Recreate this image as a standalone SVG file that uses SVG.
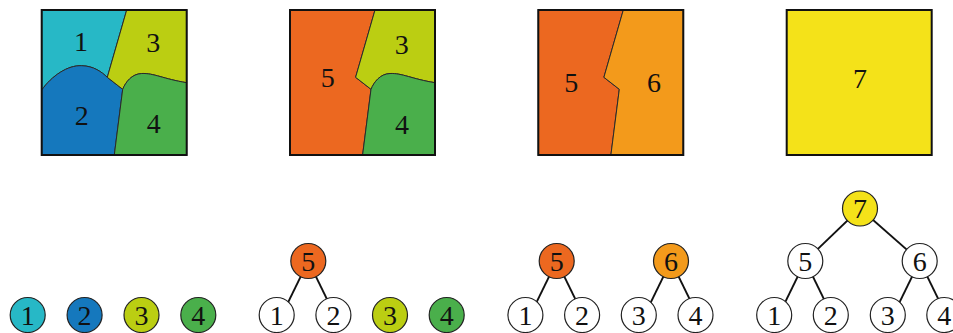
<svg xmlns="http://www.w3.org/2000/svg" width="953" height="333" viewBox="0 0 953 333">
  <style>
    text { font-family: "Liberation Serif", "Times New Roman", serif; font-size: 28px; fill: #111; text-anchor: middle; }
    .reg { stroke: #2a2a2a; stroke-width: 1; stroke-linejoin: round; }
    .frame { fill: none; stroke: #111; stroke-width: 2; }
    .node { stroke: #222; stroke-width: 1.2; }
    .edge { stroke: #111; stroke-width: 1.8; fill: none; }
    .c1 { fill: #27b8c6; } .c2 { fill: #1578bd; } .c3 { fill: #bbce12; } .c4 { fill: #4aaf4b; }
    .c5 { fill: #ec6820; } .c6 { fill: #f39a1b; } .c7 { fill: #f4e219; } .cw { fill: #fff; }
  </style>
  <defs>
    <!-- region outlines in a 145x145 square -->
    <path id="r1" d="M0,0 L85,0 L65.6,67.3 C60,62 52,56 40,55.7 C26,55 10,66 0,80 Z"/>
    <path id="r2" d="M0,80 C10,66 26,55 40,55.7 C52,56 60,62 65.6,67.3 L81,79.3 L72.6,145 L0,145 Z"/>
    <path id="r3" d="M85,0 L145,0 L145,72.7 C122,69 112,63 100,63.5 C90,64 84,72 81,79.3 L65.6,67.3 Z"/>
    <path id="r4" d="M81,79.3 C84,72 90,64 100,63.5 C112,63 122,69 145,72.7 L145,145 L72.6,145 Z"/>
    <path id="r5" d="M0,0 L85,0 L65.6,67.3 L81,79.3 L72.6,145 L0,145 Z"/>
    <path id="r6" d="M85,0 L145,0 L145,145 L72.6,145 L81,79.3 L65.6,67.3 Z"/>
  </defs>

  <!-- Partition stages -->
  <g id="square-1" transform="translate(41.7,10)">
    <use href="#r1" class="reg c1"/>
    <use href="#r2" class="reg c2"/>
    <use href="#r3" class="reg c3"/>
    <use href="#r4" class="reg c4"/>
    <rect class="frame" x="0" y="0" width="145" height="145"/>
    <text x="39.3" y="40.5">1</text>
    <text x="111.6" y="42">3</text>
    <text x="40" y="114.5">2</text>
    <text x="112" y="122.5">4</text>
  </g>

  <g id="square-2" transform="translate(290,10)">
    <use href="#r5" class="reg c5"/>
    <use href="#r3" class="reg c3"/>
    <use href="#r4" class="reg c4"/>
    <rect class="frame" x="0" y="0" width="145" height="145"/>
    <text x="37.7" y="77">5</text>
    <text x="111.7" y="43.5">3</text>
    <text x="112" y="123.5">4</text>
  </g>

  <g id="square-3" transform="translate(538.3,10)">
    <use href="#r5" class="reg c5"/>
    <use href="#r6" class="reg c6"/>
    <rect class="frame" x="0" y="0" width="145" height="145"/>
    <text x="33" y="82">5</text>
    <text x="115.7" y="82">6</text>
  </g>

  <g id="square-4" transform="translate(786.7,10)">
    <rect class="frame" style="fill:#f4e219" x="0" y="0" width="145" height="145"/>
    <text x="73.3" y="77.5">7</text>
  </g>

  <!-- Tree connectors -->
  <g id="connectors">
    <line class="edge" x1="308.3" y1="261" x2="286.3" y2="306"/>
    <line class="edge" x1="308.3" y1="261" x2="330.3" y2="306"/>
    <line class="edge" x1="556.7" y1="261" x2="534.7" y2="306"/>
    <line class="edge" x1="556.7" y1="261" x2="578.7" y2="306"/>
    <line class="edge" x1="671" y1="261" x2="649" y2="306"/>
    <line class="edge" x1="671" y1="261" x2="693" y2="306"/>
    <line class="edge" x1="860" y1="208.5" x2="805.3" y2="261"/>
    <line class="edge" x1="860" y1="208.5" x2="919.7" y2="261"/>
    <line class="edge" x1="805.3" y1="261" x2="783.3" y2="306"/>
    <line class="edge" x1="805.3" y1="261" x2="827.3" y2="306"/>
    <line class="edge" x1="919.7" y1="261" x2="897.7" y2="306"/>
    <line class="edge" x1="919.7" y1="261" x2="941.7" y2="306"/>
  </g>

  <!-- Forest 1: four singletons -->
  <g id="n1-a"><circle class="node c1" cx="27.7" cy="315" r="17.5"/><text x="27.7" y="324.5">1</text></g>
  <g id="n2-a"><circle class="node c2" cx="84.6" cy="315" r="17.5"/><text x="84.6" y="324.5">2</text></g>
  <g id="n3-a"><circle class="node c3" cx="141.5" cy="315" r="17.5"/><text x="141.5" y="324.5">3</text></g>
  <g id="n4-a"><circle class="node c4" cx="198.3" cy="315" r="17.5"/><text x="198.3" y="324.5">4</text></g>

  <!-- Forest 2 -->
  <g id="n5-b"><circle class="node c5" cx="308.3" cy="261" r="17.5"/><text x="308.3" y="270.5">5</text></g>
  <g id="n1-b"><circle class="node cw" cx="276.7" cy="315" r="17.5"/><text x="276.7" y="324.5">1</text></g>
  <g id="n2-b"><circle class="node cw" cx="333.4" cy="315" r="17.5"/><text x="333.4" y="324.5">2</text></g>
  <g id="n3-b"><circle class="node c3" cx="390" cy="315" r="17.5"/><text x="390" y="324.5">3</text></g>
  <g id="n4-b"><circle class="node c4" cx="446.7" cy="315" r="17.5"/><text x="446.7" y="324.5">4</text></g>

  <!-- Forest 3 -->
  <g id="n5-c"><circle class="node c5" cx="556.7" cy="261" r="17.5"/><text x="556.7" y="270.5">5</text></g>
  <g id="n6-c"><circle class="node c6" cx="671" cy="261" r="17.5"/><text x="671" y="270.5">6</text></g>
  <g id="n1-c"><circle class="node cw" cx="525.4" cy="315" r="17.5"/><text x="525.4" y="324.5">1</text></g>
  <g id="n2-c"><circle class="node cw" cx="582.1" cy="315" r="17.5"/><text x="582.1" y="324.5">2</text></g>
  <g id="n3-c"><circle class="node cw" cx="638.8" cy="315" r="17.5"/><text x="638.8" y="324.5">3</text></g>
  <g id="n4-c"><circle class="node cw" cx="695.5" cy="315" r="17.5"/><text x="695.5" y="324.5">4</text></g>

  <!-- Final tree -->
  <g id="n7-d"><circle class="node c7" cx="860" cy="208.5" r="17.5"/><text x="860" y="218">7</text></g>
  <g id="n5-d"><circle class="node cw" cx="805.3" cy="261" r="17.5"/><text x="805.3" y="270.5">5</text></g>
  <g id="n6-d"><circle class="node cw" cx="919.7" cy="261" r="17.5"/><text x="919.7" y="270.5">6</text></g>
  <g id="n1-d"><circle class="node cw" cx="774.2" cy="315" r="17.5"/><text x="774.2" y="324.5">1</text></g>
  <g id="n2-d"><circle class="node cw" cx="830.8" cy="315" r="17.5"/><text x="830.8" y="324.5">2</text></g>
  <g id="n3-d"><circle class="node cw" cx="887.8" cy="315" r="17.5"/><text x="887.8" y="324.5">3</text></g>
  <g id="n4-d"><circle class="node cw" cx="944.3" cy="315" r="17.5"/><text x="944.3" y="324.5">4</text></g>
</svg>
